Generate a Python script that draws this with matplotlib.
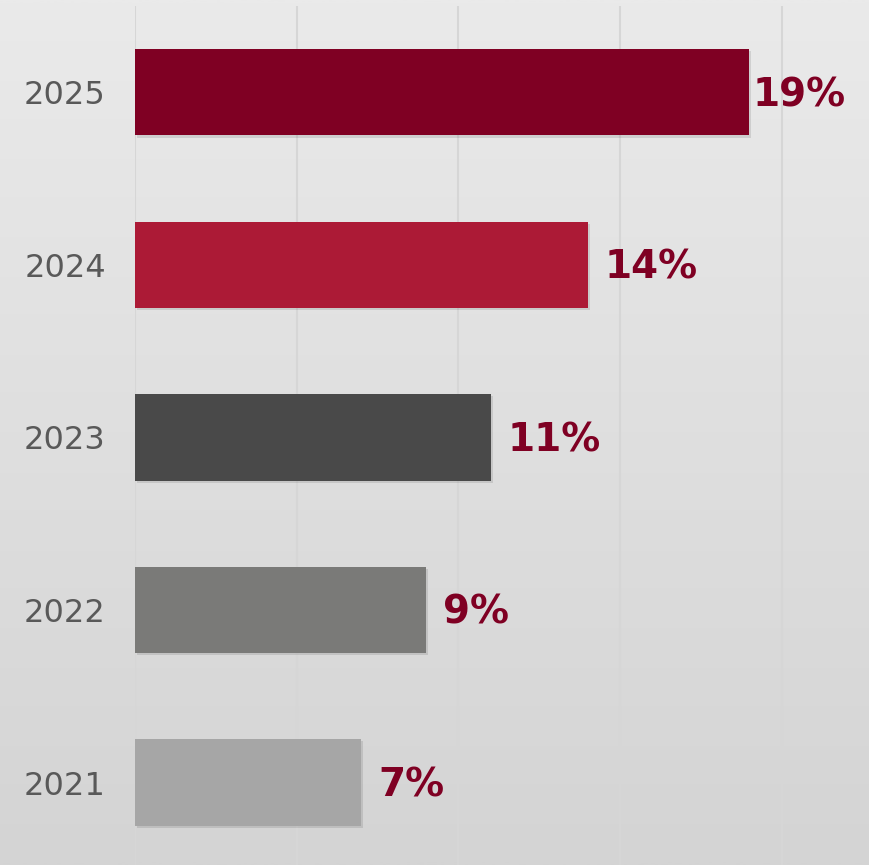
import numpy as np
import matplotlib.pyplot as plt
import matplotlib.patheffects as pe
from matplotlib.colors import LinearSegmentedColormap

years = ['2021', '2022', '2023', '2024', '2025']
share = [7, 9, 11, 14, 19]
colors = ['#a6a6a6', '#7a7a78', '#494949', '#ac1a36', '#7f0023']
labels = ['7%', '9%', '11%', '14%', '19%']

fig = plt.figure(figsize=(8.69, 8.65), dpi=100)

# background gradient, lighter at the top
bg = fig.add_axes([0, 0, 1, 1], zorder=-1)
grad = np.linspace(0, 1, 512).reshape(-1, 1)
bg.imshow(grad, aspect='auto', cmap=LinearSegmentedColormap.from_list('bg', ['#eaeaea', '#d4d4d4']),
          extent=[0, 1, 0, 1], origin='upper')
bg.set_axis_off()

ax = fig.add_axes([135 / 869, 0, 1 - 135 / 869, 1 - 6 / 865])
ax.patch.set_alpha(0)

y = np.arange(len(years))
bars = ax.barh(y, share, height=0.5, color=colors, zorder=3)
for b in bars:
    b.set_path_effects([pe.SimplePatchShadow(offset=(1.5, -1.5), shadow_rgbFace='k', alpha=0.1),
                        pe.Normal()])

ax.set_xlim(0, 22.7)
ax.set_ylim(-0.478, 4.5)
ax.set_xticks([0, 5, 10, 15, 20])
ax.xaxis.grid(True, color='#d6d6d6', linewidth=1.5, zorder=0)
ax.tick_params(axis='x', bottom=False, labelbottom=False)
ax.tick_params(axis='y', left=False, pad=17.5, labelsize=23, labelcolor='#595959')
ax.set_yticks(y)
ax.set_yticklabels(years)
for s in ax.spines.values():
    s.set_visible(False)

for i, (v, t) in enumerate(zip(share, labels)):
    off = 2 if v == max(share) else 12
    ax.annotate(t, (v, i), xytext=(off, -2), textcoords='offset points',
                va='center', ha='left', fontsize=28, fontweight='bold', color='#7f0023')

fig.savefig('out.png', dpi=100)
